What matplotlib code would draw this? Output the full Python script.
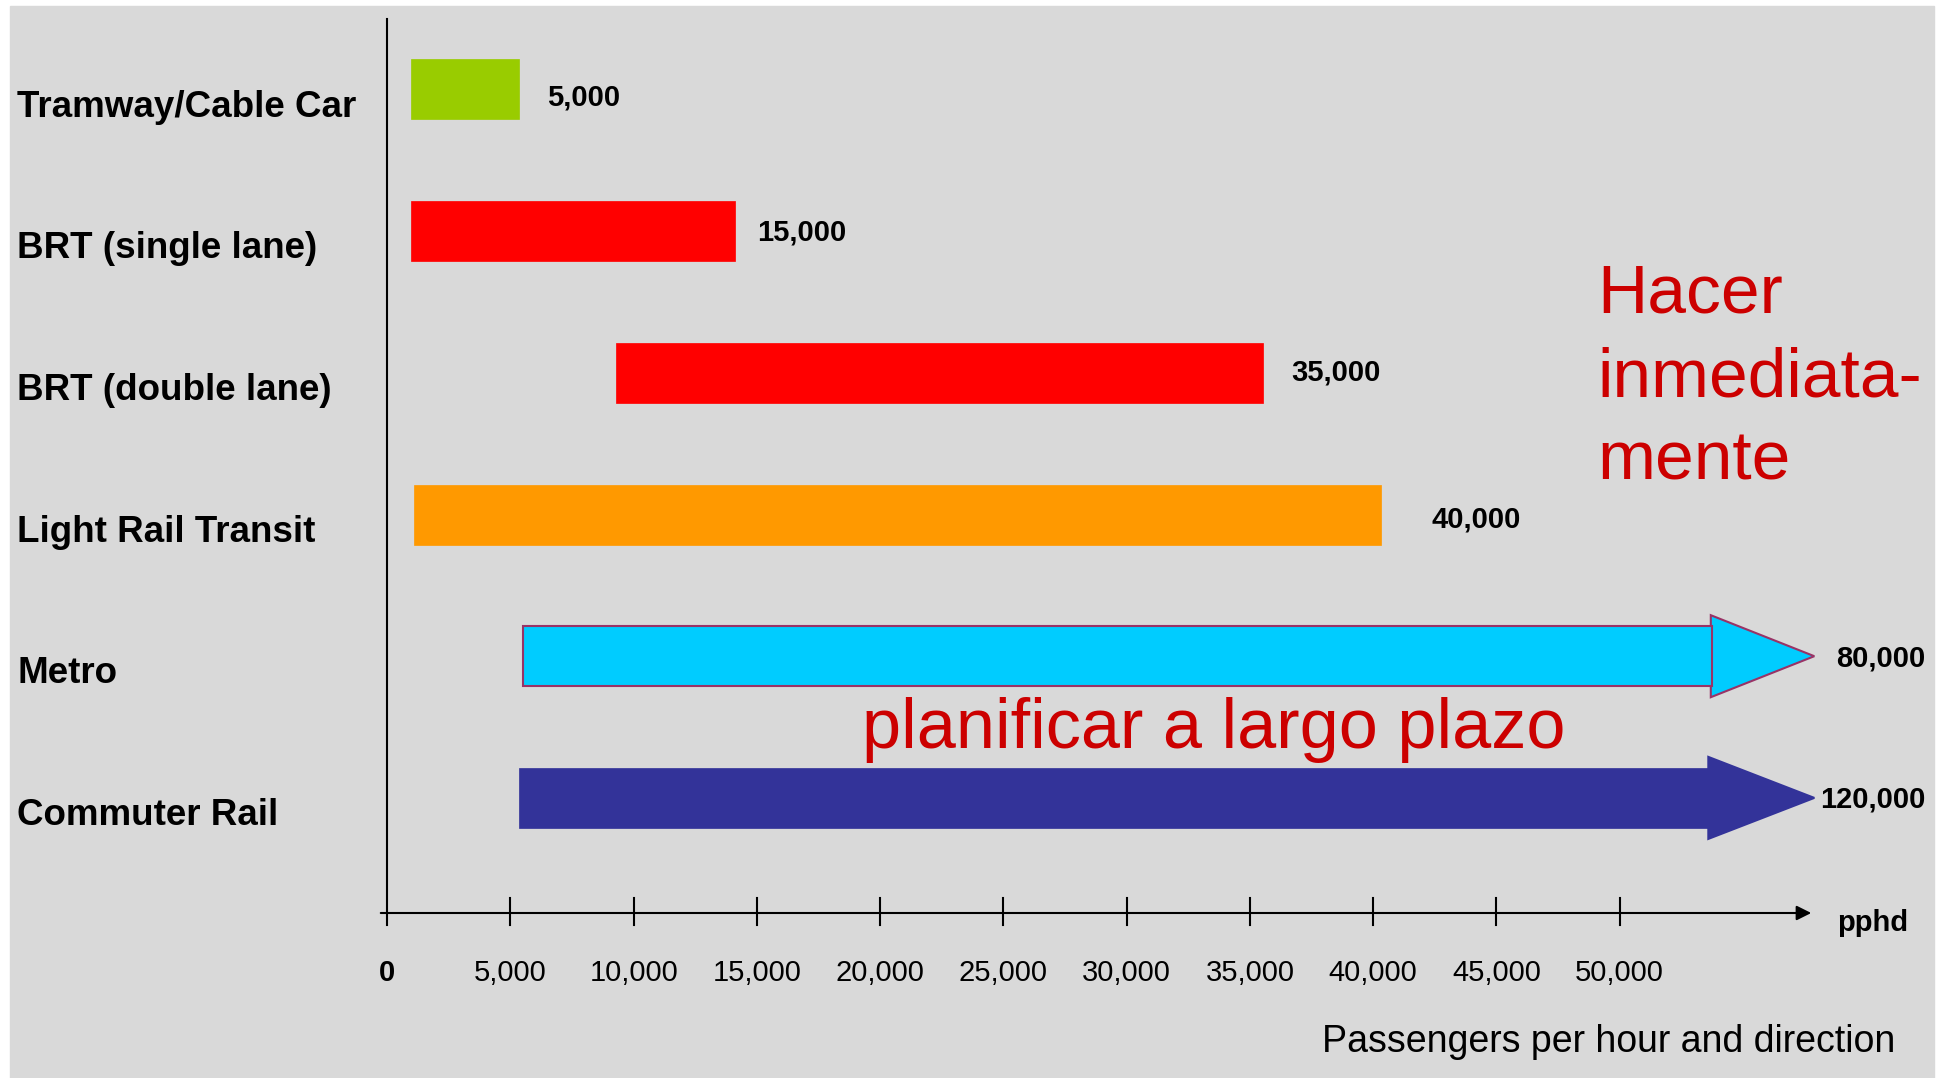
import matplotlib
matplotlib.use("Agg")
import matplotlib.pyplot as plt
from matplotlib.patches import Rectangle, Polygon

plt.rcParams['font.family'] = ['Liberation Sans', 'DejaVu Sans']

# Données
modes = ['Tramway/Cable Car', 'BRT (single lane)', 'BRT (double lane)',
         'Light Rail Transit', 'Metro', 'Commuter Rail']
bar_start = [950, 950, 9300, 1100, 5500, 5350]
bar_end = [5350, 14100, 35550, 40300, 53750, 53650]
arrow_tip = [None, None, None, None, 57900, 57900]
capacity = ['5,000', '15,000', '35,000', '40,000', '80,000', '120,000']
colors = ['#99cc00', '#ff0000', '#ff0000', '#ff9900', '#00ccff', '#333399']
edge_colors = [None, None, None, None, '#993366', None]
ticks = [0, 5000, 10000, 15000, 20000, 25000, 30000, 35000, 40000, 45000, 50000]
tick_labels = ['0', '5,000', '10,000', '15,000', '20,000', '25,000',
               '30,000', '35,000', '40,000', '45,000', '50,000']
label_gap_px = [28, 22, 28, 51, 22, 6]
label_dy_px = [7, 0, -2, 3, 1, 0]

# Mise en page (pixels de l'image)
W, H = 1946, 1078
X0_PX = 387.2
PX_PER_UNIT = 123.24 / 5000
Y0_PX = 89.4
ROW_PX = 141.7


def ypx(p):
    return (p - Y0_PX) / ROW_PX


def xpx(p):
    return (p - X0_PX) / PX_PER_UNIT


fig = plt.figure(figsize=(W / 100, H / 100), dpi=100)
fig.patch.set_facecolor('white')
fig.patches.append(Rectangle((10 / W, 0), (1934 - 10) / W, (H - 6) / H,
                             transform=fig.transFigure, color='#d9d9d9', zorder=-1))

ax = fig.add_axes([0, 0, 1, 1])
ax.set_xlim(xpx(0), xpx(W))
ax.set_ylim(ypx(H), ypx(0))
ax.axis('off')

bar_h = 60 / ROW_PX
head_half = 41 / ROW_PX

for i, mode in enumerate(modes):
    if arrow_tip[i] is not None:
        head = Polygon([(bar_end[i] - 50, i - head_half), (arrow_tip[i], i),
                        (bar_end[i] - 50, i + head_half)],
                       closed=True, facecolor=colors[i],
                       edgecolor=edge_colors[i] or colors[i], lw=1.5, zorder=2)
        ax.add_patch(head)
    ax.barh(i, bar_end[i] - bar_start[i], left=bar_start[i], height=bar_h,
            color=colors[i], edgecolor=edge_colors[i] or colors[i],
            lw=1.5 if edge_colors[i] else 0.5, zorder=3)

    end = arrow_tip[i] if arrow_tip[i] is not None else bar_end[i]
    ax.text(end + label_gap_px[i] / PX_PER_UNIT, i + (label_dy_px[i] + 1.5) / ROW_PX,
            capacity[i], fontsize=21, fontweight='bold', va='center', ha='left')

    ax.text(17 / W, i + 0.125, mode, transform=ax.get_yaxis_transform(),
            fontsize=26.5, fontweight='bold', va='center', ha='left')

# axes dessinés à la main
y_axis = ypx(913)
ax.plot([0, 0], [ypx(19), ypx(925)], color='black', lw=1.5)
ax.annotate('', xy=(xpx(1814), y_axis), xytext=(xpx(378), y_axis),
            arrowprops=dict(arrowstyle='-|>', color='black', lw=1.5,
                            mutation_scale=22))
for t, lab in zip(ticks, tick_labels):
    if t > 0:
        ax.plot([t, t], [ypx(898), ypx(925)], color='black', lw=1.5)
    ax.text(t, ypx(973), lab, fontsize=21, ha='center', va='center',
            fontweight='bold' if t == 0 else 'normal')

ax.text(xpx(1837), ypx(923), 'pphd', fontsize=21, fontweight='bold',
        va='center', ha='left')
ax.text(xpx(1895), ypx(1042), 'Passengers per hour and direction',
        fontsize=27, va='center', ha='right')

red = '#cc0000'
for line, base in zip(['Hacer', 'inmediata-', 'mente'], [312, 396, 479]):
    ax.text(xpx(1597), ypx(base), line, fontsize=50, color=red,
            va='baseline', ha='left')
ax.text(xpx(862), ypx(748), 'planificar a largo plazo', fontsize=50.6,
        color=red, va='baseline', ha='left')

fig.savefig('out.png', dpi=100)
